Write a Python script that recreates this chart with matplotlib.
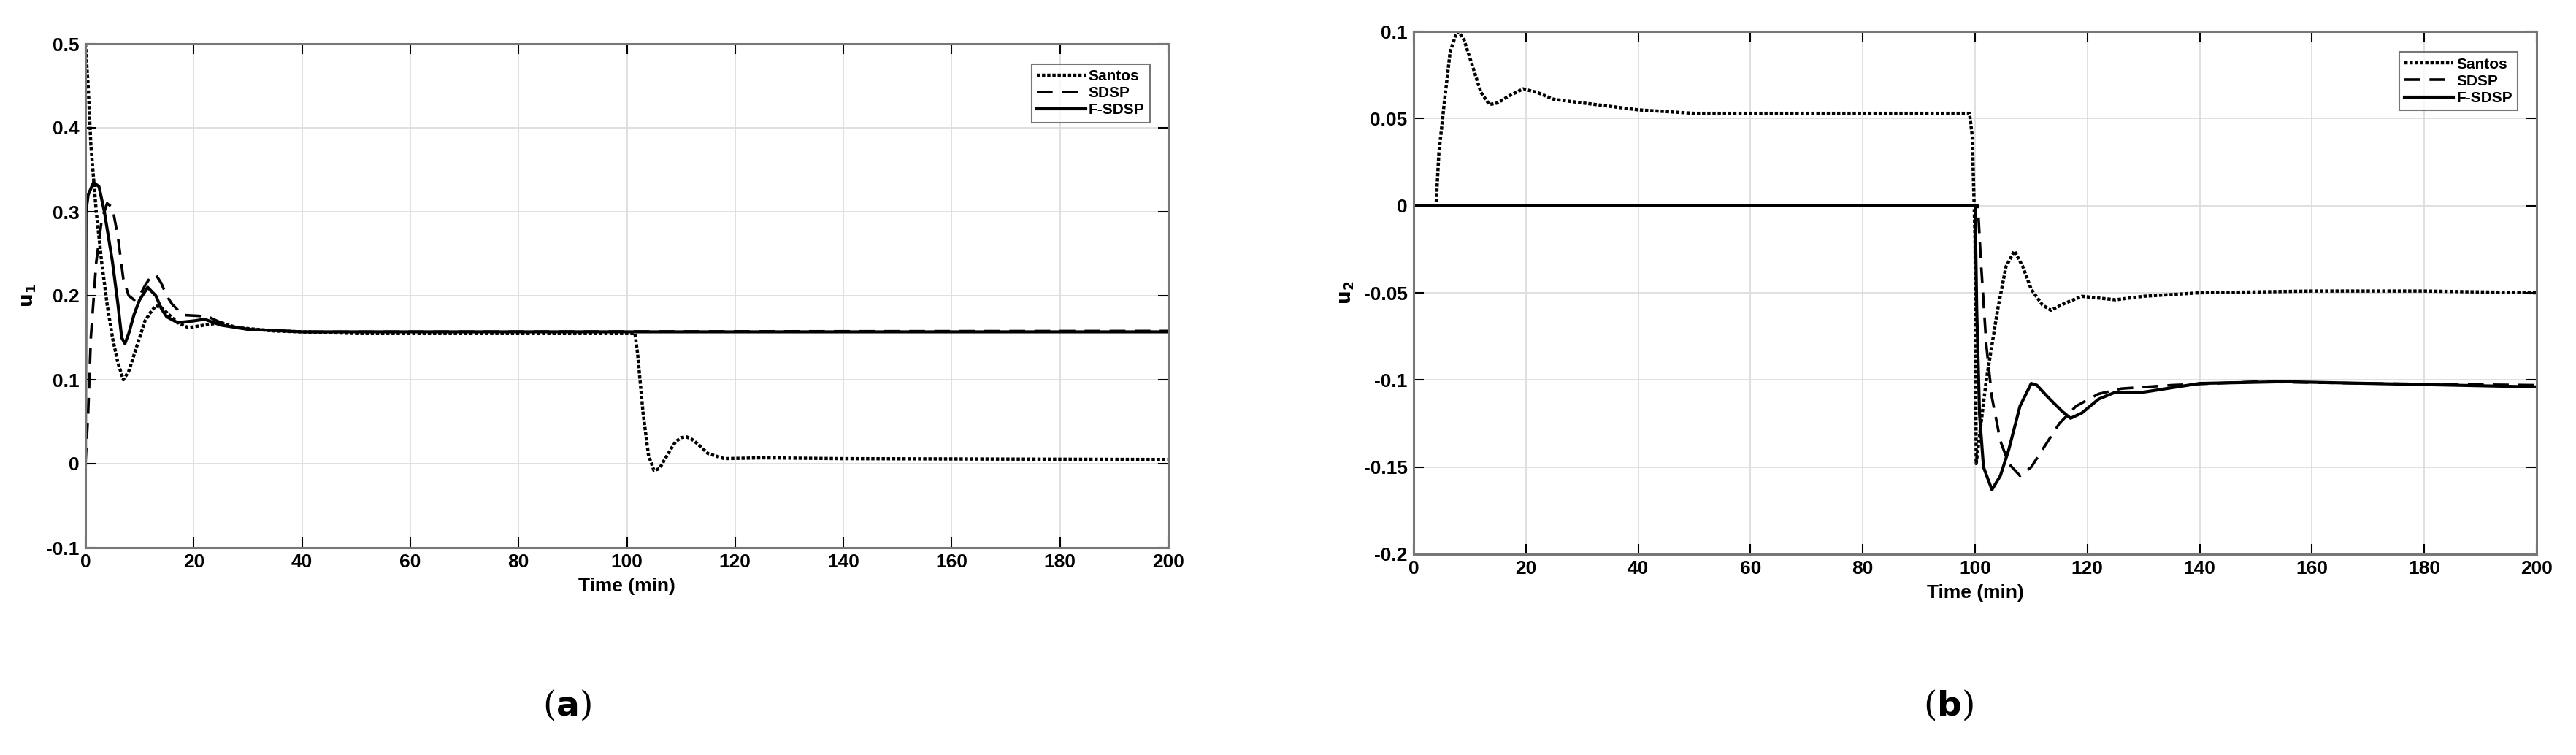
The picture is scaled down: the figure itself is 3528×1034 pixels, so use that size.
import matplotlib
matplotlib.use("Agg")
import matplotlib.pyplot as plt

# ---- data (a) u1 ----
a_santos_t = [0, 0.5, 1, 1.5, 2, 3, 4, 5, 6, 7, 8, 9, 10, 11, 12, 13, 14, 15, 17, 19, 22, 25, 28, 35, 50, 100, 101.5, 102, 103, 104, 105, 106, 107, 108, 109, 110, 111, 112, 113, 115, 118, 125, 140, 200]
a_santos_v = [0.5, 0.45, 0.38, 0.34, 0.3, 0.24, 0.19, 0.15, 0.12, 0.10, 0.11, 0.13, 0.15, 0.17, 0.18, 0.188, 0.186, 0.18, 0.168, 0.162, 0.165, 0.168, 0.162, 0.158, 0.155, 0.155, 0.155, 0.13, 0.06, 0.01, -0.008, -0.006, 0.005, 0.016, 0.026, 0.031, 0.032, 0.029, 0.024, 0.012, 0.006, 0.007, 0.006, 0.005]
a_fsdsp_t = [0, 0.1, 0.5, 1.5, 2.5, 3.5, 5, 6, 6.7, 7.3, 8, 9, 10, 11.5, 13, 14, 15, 17, 20, 22, 25, 30, 40, 200]
a_fsdsp_v = [0, 0.3, 0.32, 0.335, 0.33, 0.3, 0.24, 0.19, 0.15, 0.143, 0.155, 0.178, 0.195, 0.21, 0.2, 0.185, 0.175, 0.168, 0.17, 0.172, 0.165, 0.16, 0.157, 0.157]
a_sdsp_t = [0, 0.5, 1, 2, 3, 4, 5, 6, 7, 8, 9, 10, 11, 12, 13, 14, 15, 16, 18, 21, 23, 26, 30, 40, 200]
a_sdsp_v = [0, 0.06, 0.15, 0.24, 0.29, 0.31, 0.305, 0.27, 0.22, 0.2, 0.195, 0.2, 0.212, 0.222, 0.225, 0.215, 0.2, 0.19, 0.177, 0.176, 0.174, 0.165, 0.16, 0.157, 0.158]

# ---- data (b) u2 ----
b_santos_t = [0, 4, 4.5, 5.5, 6.5, 7.5, 8, 9, 10.5, 12, 13.5, 15, 17, 19.5, 22, 25, 30, 40, 50, 99, 99.5, 100, 100.2, 100.5, 102, 104, 105.5, 107, 108.5, 110, 112, 113.5, 116, 119, 122, 125, 130, 140, 160, 180, 200]
b_santos_v = [0, 0, 0.03, 0.06, 0.088, 0.098, 0.1, 0.095, 0.08, 0.065, 0.058, 0.059, 0.063, 0.067, 0.065, 0.061, 0.059, 0.055, 0.053, 0.053, 0.04, -0.02, -0.148, -0.14, -0.1, -0.06, -0.035, -0.026, -0.035, -0.048, -0.057, -0.06, -0.056, -0.052, -0.053, -0.054, -0.052, -0.05, -0.049, -0.049, -0.05]
b_fsdsp_t = [0, 100, 100.3, 100.8, 101.5, 103, 104.5, 106, 108, 110, 111, 113, 115.5, 117, 119, 122, 125, 130, 140, 155, 170, 200]
b_fsdsp_v = [0, 0, -0.06, -0.12, -0.15, -0.163, -0.155, -0.14, -0.115, -0.102, -0.103, -0.11, -0.118, -0.122, -0.119, -0.111, -0.107, -0.107, -0.102, -0.101, -0.102, -0.104]
b_sdsp_t = [0, 100.5, 101, 102, 103, 104.5, 106, 108, 110, 112, 115, 118, 122, 126, 135, 150, 170, 200]
b_sdsp_v = [0, 0, -0.03, -0.08, -0.11, -0.135, -0.148, -0.155, -0.15, -0.14, -0.125, -0.115, -0.108, -0.105, -0.103, -0.101, -0.102, -0.103]

labels = ["Santos", "SDSP", "F-SDSP"]
a_yticks = [-0.1, 0, 0.1, 0.2, 0.3, 0.4, 0.5]
a_yticklabels = ["-0.1", "0", "0.1", "0.2", "0.3", "0.4", "0.5"]
b_yticks = [-0.2, -0.15, -0.1, -0.05, 0, 0.05, 0.1]
b_yticklabels = ["-0.2", "-0.15", "-0.1", "-0.05", "0", "0.05", "0.1"]
xticks = list(range(0, 201, 20))

plt.rcParams['font.family'] = ['Liberation Sans', 'DejaVu Sans']
fig = plt.figure(figsize=(35.28, 10.34), dpi=100)

def panel(rect, series, yticks, ylabs, ylim, ylabel, cap, capx):
    ax = fig.add_axes(rect)
    styles = [dict(ls=(0, (1, 0.6)), lw=3.2), dict(ls=(0, (6, 3.5)), lw=2.6), dict(ls='-', lw=3.0)]
    for (t, v), st, lab in zip(series, styles, labels):
        ax.plot(t, v, color='black', label=lab, **st)
    ax.set_xlim(0, 200)
    ax.set_ylim(*ylim)
    ax.set_xticks(xticks)
    ax.set_xticklabels([str(x) for x in xticks], fontsize=19, fontweight='bold')
    ax.set_yticks(yticks)
    ax.set_yticklabels(ylabs, fontsize=19, fontweight='bold')
    ax.tick_params(direction='in', top=True, right=True, length=10, width=1.5, pad=6)
    ax.grid(True, color='#dddddd', lw=1.3)
    for s in ax.spines.values():
        s.set_color('#777777'); s.set_linewidth(2.2)
    ax.set_xlabel('Time (min)', fontsize=19, fontweight='bold', labelpad=6)
    ax.set_ylabel(ylabel, fontsize=19, fontweight='bold', labelpad=8)
    leg = ax.legend(loc='upper right', prop=dict(weight='bold', size=15), handlelength=3.2,
                    handletextpad=0.2, borderpad=0.35, labelspacing=0.2, fancybox=False,
                    bbox_to_anchor=(0.99, 0.975))
    leg.get_frame().set_edgecolor('#555555'); leg.get_frame().set_linewidth(1.5)
    fig.text(capx, 0.065, cap, fontsize=34, family='DejaVu Serif', ha='center', va='center')
    return ax

panel([117/3528, 1 - 750/1034, (1600 - 117)/3528, (750 - 60)/1034],
      [(a_santos_t, a_santos_v), (a_sdsp_t, a_sdsp_v), (a_fsdsp_t, a_fsdsp_v)],
      a_yticks, a_yticklabels, (-0.1, 0.5), r'$\mathbf{u_1}$', r'($\mathbf{a}$)', 776/3528)
panel([1936/3528, 1 - 759/1034, (3474 - 1936)/3528, (759 - 43)/1034],
      [(b_santos_t, b_santos_v), (b_sdsp_t, b_sdsp_v), (b_fsdsp_t, b_fsdsp_v)],
      b_yticks, b_yticklabels, (-0.2, 0.1), r'$\mathbf{u_2}$', r'($\mathbf{b}$)', 2668/3528)

fig.savefig('out.png', dpi=100, facecolor='white')
